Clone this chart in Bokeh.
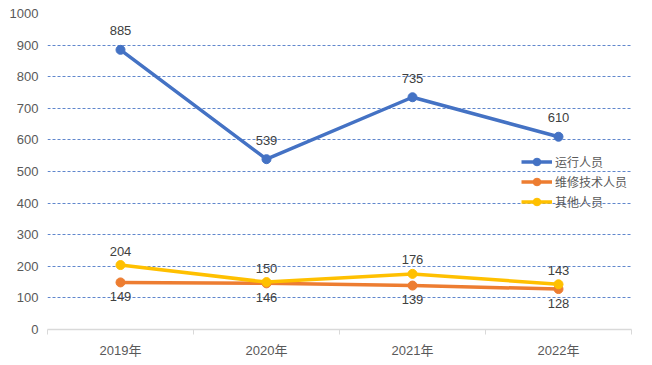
from bokeh.plotting import figure
from bokeh.models import Range1d, FixedTicker, Legend
from bokeh.core.properties import value
from bokeh.embed import file_html
from bokeh.resources import INLINE

categories = ["2019年", "2020年", "2021年", "2022年"]
series_names = ["运行人员", "维修技术人员", "其他人员"]
yunxing = [885, 539, 735, 610]
weixiu = [149, 146, 139, 128]
qita = [204, 150, 176, 143]
y_ticks = [0, 100, 200, 300, 400, 500, 600, 700, 800, 900, 1000]

colors = ["#4472C4", "#ED7D31", "#FFC000"]
label_offsets = [-19, 14, -14]
FONT = "'Liberation Sans', 'Noto Sans CJK SC'"

xs = [i + 0.5 for i in range(len(categories))]

p = figure(width=644, height=360, output_backend="svg", toolbar_location=None,
           x_range=Range1d(0, len(categories)), y_range=Range1d(0, 1000),
           min_border_left=47, min_border_right=13, min_border_top=13, min_border_bottom=30)
p.outline_line_color = None
p.background_fill_color = "white"

# axes
p.xaxis.ticker = FixedTicker(ticks=xs, minor_ticks=list(range(len(categories) + 1)))
p.xaxis.major_label_overrides = {x: c for x, c in zip(xs, categories)}
p.xaxis.major_tick_out = 0
p.xaxis.major_tick_in = 0
p.xaxis.minor_tick_out = 5
p.xaxis.minor_tick_in = 0
p.xaxis.minor_tick_line_color = "#d9d9d9"
p.xaxis.axis_line_color = "#d9d9d9"
p.xaxis.axis_line_width = 1.5
p.xaxis.major_label_standoff = 8
p.xaxis.major_label_text_font = FONT
p.xaxis.major_label_text_font_size = "13px"
p.xaxis.major_label_text_color = "#595959"

p.yaxis.ticker = FixedTicker(ticks=y_ticks)
p.yaxis.axis_line_color = None
p.yaxis.major_tick_line_color = None
p.yaxis.minor_tick_line_color = None
p.yaxis.major_tick_out = 0
p.yaxis.major_label_standoff = 9
p.yaxis.major_label_text_font = FONT
p.yaxis.major_label_text_font_size = "13px"
p.yaxis.major_label_text_color = "#595959"

p.xgrid.grid_line_color = None
p.ygrid.ticker = FixedTicker(ticks=y_ticks[1:])
p.ygrid.grid_line_color = "#4472C4"
p.ygrid.grid_line_alpha = 0.85
p.ygrid.grid_line_dash = "3 2"
p.ygrid.grid_line_width = 1

items = []
for name, vals, col, off in zip(series_names, [yunxing, weixiu, qita], colors, label_offsets):
    r1 = p.line(xs, vals, line_color=col, line_width=3.5)
    r2 = p.scatter(xs, vals, marker="circle", size=9, fill_color=col, line_color=col)
    items.append((name, [r1, r2]))
    p.text(xs, vals, text=[str(v) for v in vals], text_align="center", text_baseline="middle",
           y_offset=off, text_font=value(FONT), text_font_size="13px", text_color="#404040")

legend = Legend(items=items, location=(474, 118), orientation="vertical",
                background_fill_alpha=0, border_line_color=None, padding=0, margin=0,
                spacing=1, glyph_width=31, glyph_height=19, label_height=19,
                label_standoff=3, label_text_font=FONT, label_text_font_size="12px",
                label_text_color="#595959")
p.add_layout(legend, "center")

open("out.html", "w").write(file_html(p, INLINE))
